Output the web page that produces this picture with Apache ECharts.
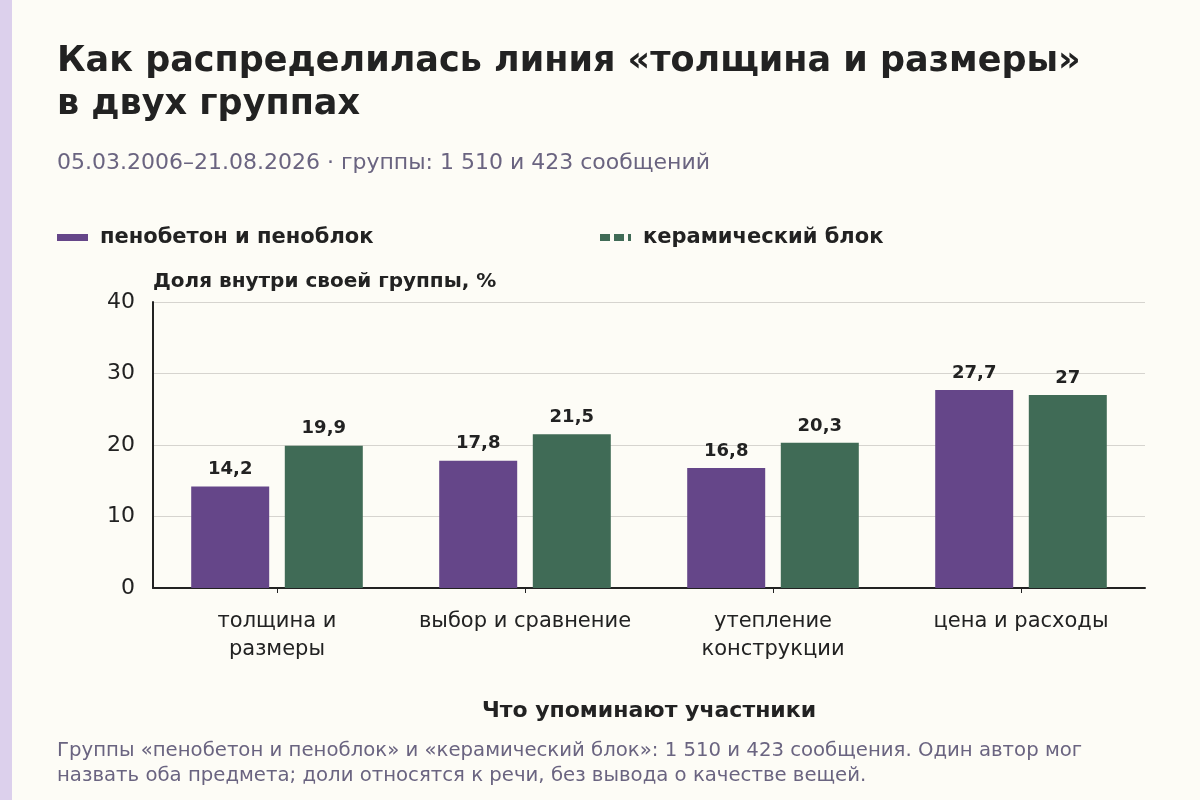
<!DOCTYPE html>
<html>
<head>
<meta charset="utf-8">
<script src="https://cdn.jsdelivr.net/npm/echarts@6/dist/echarts.min.js"></script>
<style>
  html, body { margin: 0; padding: 0; background: #fdfcf6; }
  #main { width: 1200px; height: 800px; }
</style>
</head>
<body>
<div id="main"></div>
<script>
var categories = ['толщина и\nразмеры', 'выбор и сравнение', 'утепление\nконструкции', 'цена и расходы'];
var seriesNames = ['пенобетон и пеноблок', 'керамический блок'];
var penoValues = [14.2, 17.8, 16.8, 27.7];
var keramValues = [19.9, 21.5, 20.3, 27];
var yTicks = [0, 10, 20, 30, 40];

var FONT = '"DejaVu Sans", sans-serif';
var PURPLE = '#654689';
var GREEN = '#406b56';

function comma(p) {
    return String(p.value).replace('.', ',');
}

var myChart = echarts.init(document.getElementById('main'));
var option = {
    backgroundColor: '#fdfcf6',
    textStyle: { fontFamily: FONT },
    title: [
        {
            text: 'Как распределилась линия «толщина и размеры»\nв двух группах',
            left: 52,
            top: 35,
            textStyle: { fontFamily: FONT, fontSize: 35, fontWeight: 'bold', color: '#222', lineHeight: 43 }
        },
        {
            text: '05.03.2006–21.08.2026 · группы: 1 510 и 423 сообщений',
            left: 52,
            top: 147,
            textStyle: { fontFamily: FONT, fontSize: 22, fontWeight: 'normal', color: '#6a6480' }
        },
        {
            text: 'Группы «пенобетон и пеноблок» и «керамический блок»: 1 510 и 423 сообщения. Один автор мог\nназвать оба предмета; доли относятся к речи, без вывода о качестве вещей.',
            left: 52,
            top: 733,
            textStyle: { fontFamily: FONT, fontSize: 19.7, fontWeight: 'normal', color: '#6a6480', lineHeight: 25 }
        }
    ],
    legend: [
        {
            data: [seriesNames[0]],
            left: 52,
            top: 222,
            icon: 'rect',
            itemWidth: 31,
            itemHeight: 7,
            textStyle: { fontFamily: FONT, fontSize: 21, fontWeight: 'bold', color: '#222', padding: [0, 0, 0, 7] },
            selectedMode: false
        },
        {
            data: [{
                name: seriesNames[1],
                icon: 'path://M0,0h10v7h-10z M14,0h10v7h-10z M28,0h3v7h-3z'
            }],
            left: 595,
            top: 222,
            itemWidth: 31,
            itemHeight: 7,
            textStyle: { fontFamily: FONT, fontSize: 21, fontWeight: 'bold', color: '#222', padding: [0, 0, 0, 7] },
            selectedMode: false
        }
    ],
    grid: {
        left: 153,
        right: 55,
        top: 302,
        bottom: 212
    },
    xAxis: {
        type: 'category',
        data: categories,
        name: 'Что упоминают участники',
        nameLocation: 'middle',
        nameGap: 112,
        nameTextStyle: { fontFamily: FONT, fontSize: 22, fontWeight: 'bold', color: '#222' },
        axisLine: { lineStyle: { color: '#222', width: 2 } },
        axisTick: { show: true, alignWithLabel: true, length: 5, lineStyle: { color: '#222' } },
        axisLabel: { interval: 0, fontFamily: FONT, fontSize: 21, color: '#222', lineHeight: 28, margin: 20 }
    },
    yAxis: {
        type: 'value',
        min: yTicks[0],
        max: yTicks[yTicks.length - 1],
        interval: 10,
        name: 'Доля внутри своей группы, %',
        nameLocation: 'end',
        nameGap: 10,
        nameTextStyle: { fontFamily: FONT, fontSize: 20, fontWeight: 'bold', color: '#222', align: 'left' },
        axisLine: { show: true, lineStyle: { color: '#222', width: 2 } },
        axisTick: { show: false },
        axisLabel: { fontFamily: FONT, fontSize: 22, color: '#222', margin: 18 },
        splitLine: { lineStyle: { color: '#d6d4cf', width: 1 } }
    },
    series: [
        {
            name: seriesNames[0],
            type: 'bar',
            data: penoValues,
            barWidth: 78,
            barGap: '20%',
            itemStyle: { color: PURPLE },
            label: {
                show: true, position: 'top', distance: 8, formatter: comma,
                fontFamily: FONT, fontSize: 18, fontWeight: 'bold', color: '#222'
            }
        },
        {
            name: seriesNames[1],
            type: 'bar',
            data: keramValues,
            barWidth: 78,
            barGap: '20%',
            itemStyle: { color: GREEN },
            label: {
                show: true, position: 'top', distance: 8, formatter: comma,
                fontFamily: FONT, fontSize: 18, fontWeight: 'bold', color: '#222'
            }
        }
    ],
    graphic: [
        {
            type: 'rect',
            left: 0,
            top: 0,
            shape: { width: 12, height: 800 },
            style: { fill: '#dcd0ec' }
        }
    ]
};
myChart.setOption(option);
</script>
</body>
</html>
